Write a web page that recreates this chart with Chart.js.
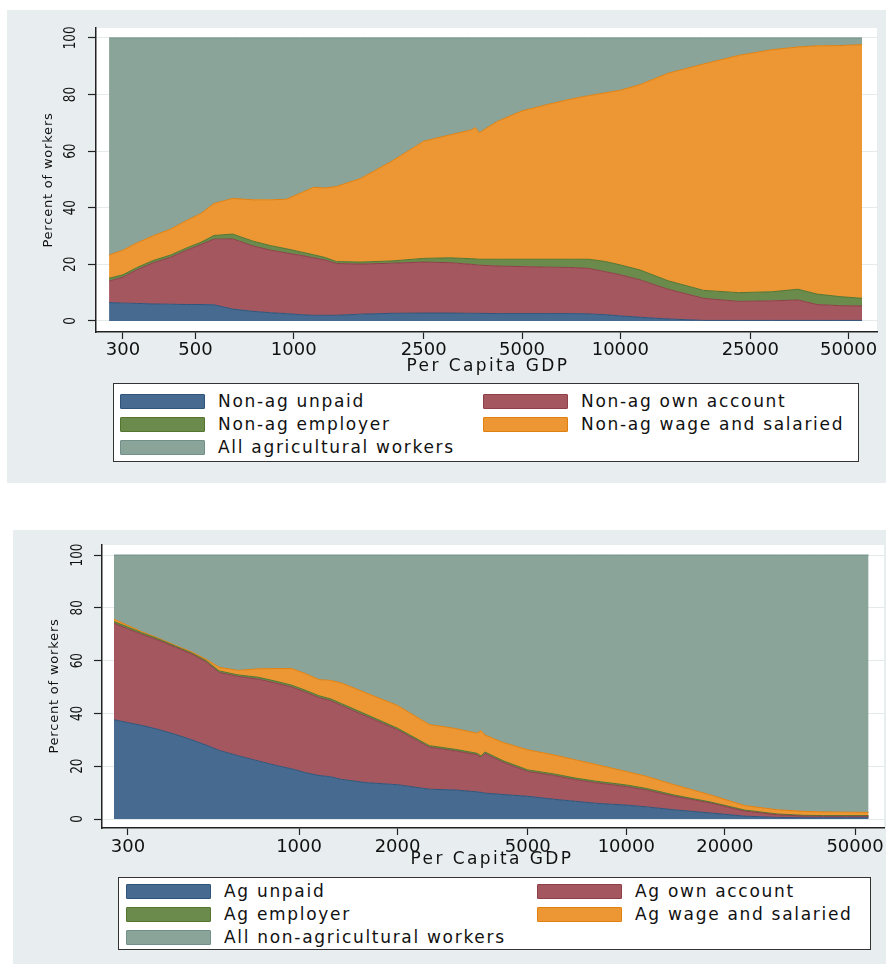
<!DOCTYPE html>
<html>
<head>
<meta charset="utf-8">
<script src="https://cdn.jsdelivr.net/npm/chart.js@4"></script>
<style>
  html, body { margin:0; padding:0; background:#ffffff; width:886px; height:964px; overflow:hidden; }
  body { position:relative; font-family:"DejaVu Sans", sans-serif; color:#111; }
  canvas { position:absolute; background:#e8eef0; }
  .title { position:absolute; font-size:17px; letter-spacing:2.4px; white-space:nowrap; transform:translate(-50%,-50%); line-height:1; }
  .ytitle { position:absolute; font-size:13px; letter-spacing:0.8px; white-space:nowrap; transform:translate(-50%,-50%) rotate(-90deg); line-height:1; }
  .legend { position:absolute; background:#fff; border:1px solid #333; box-sizing:border-box; }
  .item { position:absolute; display:flex; align-items:center; font-size:17px; letter-spacing:1.7px; white-space:nowrap; transform:translateY(-50%); }
  .sw { width:85px; height:15px; margin-right:12px; box-sizing:border-box; border:1px solid; border-radius:1px; }
</style>
</head>
<body>
<canvas id="top" width="879" height="473" style="left:7px;top:10px;width:879px;height:473px"></canvas>
<canvas id="bottom" width="873" height="434" style="left:13px;top:530px;width:873px;height:434px"></canvas>

<div class="title" style="left:488px;top:365px">Per Capita GDP</div>
<div class="ytitle" style="left:47px;top:180px">Percent of workers</div>
<div class="title" style="left:492px;top:858px">Per Capita GDP</div>
<div class="ytitle" style="left:53px;top:686px">Percent of workers</div>

<div class="legend" id="legTop" style="left:113px;top:383px;width:746px;height:79px"></div>
<div class="legend" id="legBottom" style="left:118px;top:877px;width:753px;height:73px"></div>

<script>
// ---------- DATA ----------
// Per capita GDP (x values, log scale)
const gdp = [272,300,330,370,420,470,520,570,650,750,850,950,1050,1150,1250,1350,1600,2000,2500,3000,3500,3600,3700,4200,5000,6000,7000,8000,9000,10000,11500,14000,18000,23000,29000,35000,40000,47000,55000];

// Top chart: share of workers (percent), stacked
const nonAgUnpaid   = [6.5,6.3,6.2,6.0,5.9,5.8,5.8,5.7,4.2,3.4,2.9,2.6,2.2,2.0,2.0,2.0,2.4,2.7,2.8,2.8,2.7,2.7,2.7,2.6,2.6,2.6,2.6,2.5,2.2,1.8,1.3,0.7,0.2,0.2,0.2,0.2,0.2,0.2,0.2];
const nonAgOwn      = [7.6,9.2,11.8,14.5,16.6,19.2,21.2,23.2,24.8,23.1,22.1,21.4,21.0,20.3,19.5,18.3,17.7,17.7,18.0,17.8,17.3,17.1,17.0,16.8,16.6,16.4,16.3,16.1,15.2,14.5,13.2,10.5,7.8,6.7,6.9,7.2,5.6,5.2,5.1];
const nonAgEmployer = [1.0,0.8,0.8,0.8,0.8,0.8,0.8,1.3,1.7,1.7,1.6,1.5,1.2,1.1,0.9,0.7,0.7,0.8,1.3,1.7,2.0,2.1,2.1,2.4,2.6,2.8,2.9,3.2,3.6,3.5,3.5,3.0,2.8,3.1,3.2,3.8,3.7,3.2,2.7];
const nonAgWage     = [8.2,8.7,8.7,8.7,9.2,9.7,10.2,11.3,12.6,14.6,16.2,17.5,20.8,23.8,24.6,26.5,29.5,35.3,41.4,43.4,45.5,46.4,44.7,48.7,52.4,54.7,56.5,57.8,59.6,61.7,65.5,73.3,80.0,83.8,85.5,85.6,87.7,88.7,89.6];
const allAg         = [76.7,75.0,72.5,70.0,67.5,64.5,62.0,58.5,56.7,57.2,57.2,57.0,54.8,52.8,53.0,52.5,49.7,43.5,36.5,34.3,32.5,31.7,33.5,29.5,25.8,23.5,21.7,20.4,19.4,18.5,16.5,12.5,9.2,6.2,4.2,3.2,2.8,2.7,2.4];

// Bottom chart: share of workers (percent), stacked
const agUnpaid   = [37.6,36.5,35.5,34.0,32.0,30.0,28.0,26.0,24.0,22.0,20.3,19.0,17.5,16.5,16.0,15.0,13.8,13.0,11.3,11.0,10.3,10.1,9.8,9.3,8.6,7.5,6.7,6.0,5.6,5.3,4.6,3.5,2.3,1.1,0.6,0.5,0.5,0.5,0.5];
const agOwn      = [36.5,35.5,34.5,33.8,33.0,32.5,31.5,29.5,30.0,31.0,31.2,31.0,30.5,29.5,28.8,28.0,25.2,20.8,15.9,14.8,14.0,13.2,15.0,12.2,9.4,9.0,8.2,7.8,7.4,7.0,6.4,5.1,3.8,1.9,1.0,0.6,0.5,0.5,0.5];
const agEmployer = [0.7,0.7,0.6,0.5,0.4,0.4,0.5,0.6,0.6,0.7,0.7,0.7,0.7,0.7,0.7,0.7,0.7,0.6,0.6,0.6,0.6,0.6,0.6,0.6,0.6,0.6,0.6,0.6,0.6,0.6,0.6,0.5,0.4,0.4,0.3,0.3,0.3,0.3,0.3];
const agWage     = [0.9,0.6,0.4,0.3,0.3,0.4,0.5,1.4,1.7,3.2,4.8,6.3,6.3,6.1,7.0,7.8,8.1,8.6,8.0,7.9,7.6,9.6,6.4,6.9,7.6,7.2,6.9,6.4,5.7,5.1,4.6,3.9,2.7,1.7,1.6,1.5,1.4,1.3,1.2];
const allNonAg   = [24.3,26.7,29.0,31.4,34.3,36.7,39.5,42.5,43.7,43.1,43.0,43.0,45.0,47.2,47.5,48.5,52.2,57.0,64.2,65.7,67.5,66.5,68.2,71.0,73.8,75.7,77.6,79.2,80.7,82.0,83.8,87.0,90.8,94.9,96.5,97.1,97.3,97.4,97.5];

// Tick labels
const xTicksTop    = [300,500,1000,2500,5000,10000,25000,50000];
const xTicksBottom = [300,1000,2000,5000,10000,20000,50000];
const yTicks       = [0,20,40,60,80,100];

// Labels
const topLabels    = ["Non-ag unpaid","Non-ag own account","Non-ag employer","Non-ag wage and salaried","All agricultural workers"];
const bottomLabels = ["Ag unpaid","Ag own account","Ag employer","Ag wage and salaried","All non-agricultural workers"];

// ---------- STYLE ----------
const fills   = ["#476b90","#a5575f","#6a8b4c","#ec9733","#8ba499"];
const borders = ["#2f5479","#8e3f48","#55752f","#e0800f","#71908a"];

function makeDatasets(labels, series) {
  return series.map((vals, i) => ({
    label: labels[i],
    data: gdp.map((g, j) => ({ x: g, y: vals[j] })),
    backgroundColor: fills[i],
    borderColor: borders[i],
    borderWidth: 1,
    pointRadius: 0,
    tension: 0,
    fill: i === 0 ? 'origin' : '-1'
  }));
}

const whiteArea = {
  id: 'whiteArea',
  beforeDraw(chart) {
    const {ctx, chartArea: a} = chart;
    ctx.save();
    ctx.fillStyle = '#ffffff';
    ctx.fillRect(a.left, a.top, a.right - a.left, a.bottom - a.top);
    ctx.restore();
  }
};

// vertical (rotated) y tick labels, placed at the y scale's tick pixels
const rotatedYLabels = {
  id: 'rotatedYLabels',
  afterDraw(chart, args, opts) {
    const {ctx} = chart;
    const ys = chart.scales.y;
    ctx.save();
    ctx.fillStyle = '#111';
    ctx.font = '12px "DejaVu Sans"';
    ctx.textAlign = 'center';
    ctx.textBaseline = 'middle';
    ys.ticks.forEach(t => {
      const py = ys.getPixelForValue(t.value);
      ctx.save();
      ctx.translate(opts.x, py);
      ctx.rotate(-Math.PI / 2);
      ctx.scale(1, 1.3);
      ctx.fillText(String(t.value), 0, 0);
      ctx.restore();
    });
    ctx.restore();
  }
};

function makeChart(id, labels, series, xTicks, xr, yr, pad, yLabelX, xPad) {
  return new Chart(document.getElementById(id), {
    type: 'line',
    data: { datasets: makeDatasets(labels, series) },
    plugins: [whiteArea, rotatedYLabels],
    options: {
      responsive: false,
      animation: false,
      devicePixelRatio: 1,
      layout: { padding: pad },
      plugins: { legend: { display: false }, tooltip: { enabled: false }, rotatedYLabels: { x: yLabelX } },
      scales: {
        x: {
          type: 'logarithmic',
          min: xr[0], max: xr[1],
          afterBuildTicks: s => { s.ticks = xTicks.map(v => ({ value: v })); },
          afterFit: s => { s.height = 40; },
          grid: { drawOnChartArea: false, drawTicks: true, tickLength: 7, tickColor: '#222', tickWidth: 1.2 },
          border: { display: true, color: '#222', width: 1.5 },
          ticks: { autoSkip: false, maxRotation: 0, padding: xPad, color: '#111',
                   font: { family: 'DejaVu Sans', size: 18 }, callback: v => String(v) }
        },
        y: {
          stacked: true,
          min: yr[0], max: yr[1],
          afterBuildTicks: s => { s.ticks = yTicks.map(v => ({ value: v })); },
          afterFit: s => { s.width = 40; },
          grid: { drawOnChartArea: true, color: '#e4eaec', lineWidth: 1, drawTicks: true, tickLength: 8, tickColor: '#222', tickWidth: 1.2 },
          border: { display: true, color: '#222', width: 1.5 },
          ticks: { display: false }
        }
      }
    }
  });
}

makeChart('top', topLabels, [nonAgUnpaid, nonAgOwn, nonAgEmployer, nonAgWage, allAg],
  xTicksTop, [248, 61100], [-3.9, 103.5], { left: 49, top: 18, right: 9, bottom: 111 }, 64, 1);
makeChart('bottom', bottomLabels, [agUnpaid, agOwn, agEmployer, agWage, allNonAg],
  xTicksBottom, [250, 61300], [-3.4, 103.8], { left: 49, top: 15, right: 2, bottom: 96 }, 65, 2);

// ---------- HTML legends ----------
function buildLegend(id, labels, col1Sw, col2Sw, textGap, rows, boxLeft, boxTop) {
  const box = document.getElementById(id);
  const order = [[0,0,0],[1,1,0],[2,0,1],[3,1,1],[4,0,2]];
  order.forEach(([i, col, row]) => {
    const it = document.createElement('div');
    it.className = 'item';
    it.style.left = ((col === 0 ? col1Sw : col2Sw) - boxLeft - 1) + 'px';
    it.style.top = (rows[row] - boxTop - 1) + 'px';
    const sw = document.createElement('div');
    sw.className = 'sw';
    sw.style.background = fills[i];
    sw.style.borderColor = borders[i];
    sw.style.marginRight = textGap + 'px';
    const tx = document.createElement('span');
    tx.textContent = labels[i];
    it.appendChild(sw); it.appendChild(tx);
    box.appendChild(it);
  });
}
buildLegend('legTop', topLabels, 120, 483, 13, [401, 424, 447], 113, 383);
buildLegend('legBottom', bottomLabels, 126, 537, 13, [891, 914, 937], 118, 877);
</script>
</body>
</html>
